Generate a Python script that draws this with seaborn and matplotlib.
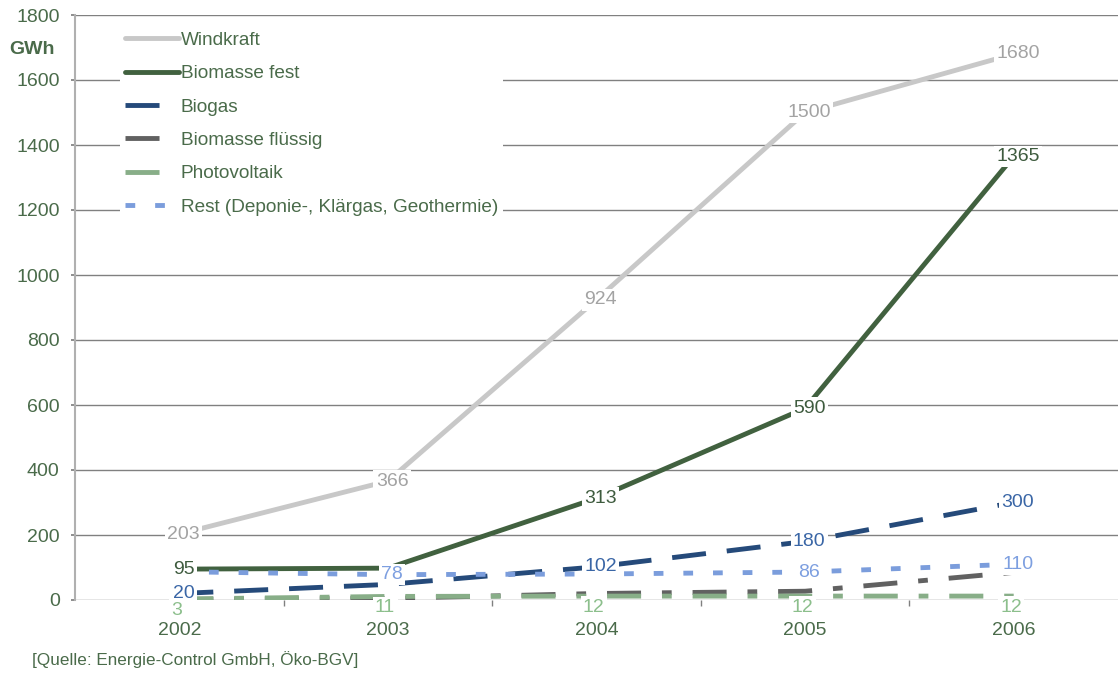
import numpy as np
import pandas as pd
import seaborn as sns
import matplotlib.pyplot as plt
from matplotlib.ticker import FixedLocator, MultipleLocator

# Stromerzeugung aus erneuerbaren Quellen (GWh)
years = [2002, 2003, 2004, 2005, 2006]
windkraft = [203, 366, 924, 1500, 1680]
biomasse_fest = [95, 98, 313, 590, 1365]
biogas = [20, 48, 102, 180, 300]
biomasse_fluessig = [2, 5, 20, 27, 85]
photovoltaik = [3, 11, 12, 12, 12]
rest = [87, 78, 80, 86, 110]

series_names = ["Windkraft", "Biomasse fest", "Biogas", "Biomasse flüssig",
                "Photovoltaik", "Rest (Deponie-, Klärgas, Geothermie)"]
series_values = [windkraft, biomasse_fest, biogas, biomasse_fluessig, photovoltaik, rest]

# which points carry a value label
labelled = {
    "Windkraft": [True, True, True, True, True],
    "Biomasse fest": [True, False, True, True, True],
    "Biogas": [True, False, True, True, True],
    "Biomasse flüssig": [False] * 5,
    "Photovoltaik": [True, True, True, True, True],
    "Rest (Deponie-, Klärgas, Geothermie)": [False, True, False, True, True],
}

line_colors = {
    "Windkraft": "#c8c8c8",
    "Biomasse fest": "#41613f",
    "Biogas": "#254a7a",
    "Biomasse flüssig": "#616161",
    "Photovoltaik": "#88ae88",
    "Rest (Deponie-, Klärgas, Geothermie)": "#7b9ddc",
}
label_colors = {
    "Windkraft": "#a3a3a3",
    "Biomasse fest": "#3e5b3e",
    "Biogas": "#3a66a6",
    "Biomasse flüssig": "#616161",
    "Photovoltaik": "#8cbf8c",
    "Rest (Deponie-, Klärgas, Geothermie)": "#7d9fe0",
}
dash_styles = {
    "Windkraft": "",
    "Biomasse fest": "",
    "Biogas": (7, 4.3),
    "Biomasse flüssig": (7, 4.3, 2, 4.3),
    "Photovoltaik": (7, 4.3, 2, 4.3),
    "Rest (Deponie-, Klärgas, Geothermie)": (2, 4.1),
}

text_green = "#4a6b4a"
grid_grey = "#808080"
fs = 14

df = pd.DataFrame({
    "Jahr": np.tile(years, len(series_names)),
    "GWh": np.concatenate(series_values),
    "Quelle": np.repeat(series_names, len(years)),
})

sns.set_theme(style="white")
plt.rcParams["font.family"] = ["Liberation Sans", "DejaVu Sans"]

fig = plt.figure(figsize=(11.18, 6.73), dpi=100)
ax = fig.add_axes([75 / 1118, 73 / 673, 1 - 75 / 1118, (600 - 15) / 673])

sns.lineplot(data=df, x="Jahr", y="GWh", hue="Quelle", style="Quelle",
             hue_order=series_names, style_order=series_names,
             palette=line_colors, dashes=dash_styles, linewidth=3.5,
             legend=False, ax=ax, zorder=3)

ax.set_xlim(years[0] - 0.5, years[-1] + 0.5)
ax.set_ylim(0, 1800)
ax.yaxis.set_major_locator(MultipleLocator(200))
ax.xaxis.set_major_locator(FixedLocator(years))
ax.xaxis.set_minor_locator(FixedLocator([y + 0.5 for y in years[:-1]]))
ax.set_xticklabels([str(y) for y in years])

ax.grid(axis="y", color=grid_grey, linewidth=1.0)
ax.grid(axis="x", visible=False)
ax.set_axisbelow(True)
for side in ["top", "right", "bottom"]:
    ax.spines[side].set_visible(False)
ax.spines["left"].set_color("#b0b0b0")
ax.spines["left"].set_linewidth(1.5)

ax.tick_params(axis="y", which="major", left=True, length=3, color=grid_grey,
               labelsize=fs, labelcolor=text_green, pad=8)
ax.tick_params(axis="x", which="major", bottom=True, length=0,
               labelsize=fs, labelcolor=text_green, pad=16)
ax.tick_params(axis="x", which="minor", bottom=True, length=4, width=1,
               color=grid_grey)
ax.set_xlabel("")
ax.set_ylabel("")

# value labels on white boxes
for name, vals in zip(series_names, series_values):
    for yr, v, show in zip(years, vals, labelled[name]):
        if not show:
            continue
        dx, dy = (-2, -8) if name == "Photovoltaik" else (3, 0)
        ax.annotate(str(v), (yr, v), xytext=(dx, dy), textcoords="offset points",
                    ha="center", va="center", fontsize=fs,
                    color=label_colors[name], zorder=6,
                    bbox=dict(boxstyle="square,pad=0.12", fc="white", ec="none"))

handles = ax.get_lines()[:len(series_names)]
leg = ax.legend(handles, series_names, loc="upper left",
                bbox_to_anchor=(120 / 1118, 1 - 27 / 673),
                bbox_transform=fig.transFigure, frameon=True, fontsize=13.7,
                handlelength=2.85, handletextpad=0.1, labelspacing=0.84,
                borderpad=0.25, borderaxespad=0, fancybox=False)
leg.get_frame().set_facecolor("white")
leg.get_frame().set_edgecolor("none")
leg.get_frame().set_alpha(1)
for t in leg.get_texts():
    t.set_color(text_green)
leg.set_zorder(7)

fig.text(32 / 1118, 1 - 50 / 673, "GWh", ha="center", va="center",
         fontsize=fs, fontweight="bold", color=text_green)
fig.text(32 / 1118, 1 - 660 / 673, "[Quelle: Energie-Control GmbH, Öko-BGV]",
         ha="left", va="center", fontsize=12.3, color=text_green)

fig.savefig("out.png", dpi=100)
